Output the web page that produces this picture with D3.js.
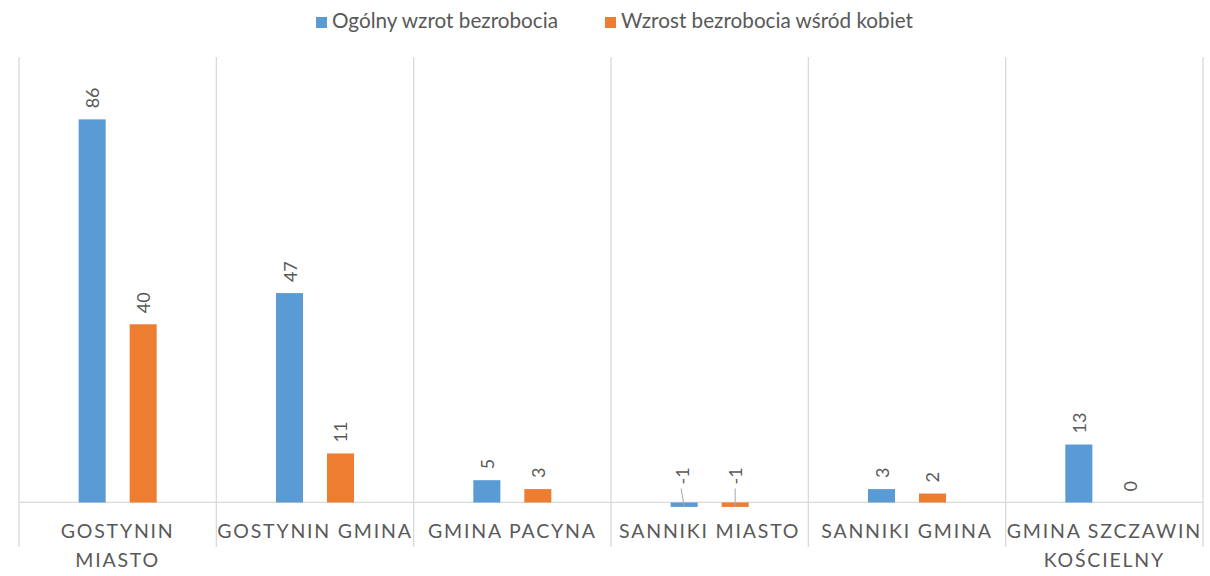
<!DOCTYPE html>
<html>
<head>
<meta charset="utf-8">
<script src="https://cdn.jsdelivr.net/npm/d3@7"></script>
<style>
    body { margin: 0; background: #fff; }
    svg text { font-family: Lato, "Open Sans", sans-serif; fill: #595959; }
    .grid-line { stroke: #d9d9d9; stroke-width: 1.3; }
</style>
</head>
<body>
<svg></svg>
<script>
// "\n" oznacza miejsce łamania etykiety (jak w oryginale)
let categories = ["GOSTYNIN\nMIASTO", "GOSTYNIN GMINA", "GMINA PACYNA", "SANNIKI MIASTO", "SANNIKI GMINA", "GMINA SZCZAWIN\nKOŚCIELNY"];
let seriesNames = ["Ogólny wzrot bezrobocia", "Wzrost bezrobocia wśród kobiet"];
let totalValues = [86, 47, 5, -1, 3, 13];
let womenValues = [40, 11, 3, -1, 2, 0];
let colors = ["#5b9bd5", "#ed7d31"];

let width = 1210;
let height = 576;
let plotLeft = 19, plotRight = 1203, plotTop = 57, plotBottom = 547;

let svg = d3.select("svg")
    .attr("width", width)
    .attr("height", height);

let rows = categories.map((c, i) => ({label: c, values: [totalValues[i], womenValues[i]]}));

// skala osi Y: od -10 do 100 jak w oryginale
let scaleY = d3.scaleLinear()
    .domain([-10, 100])
    .range([plotBottom, plotTop]);

let scaleX = d3.scaleBand()
    .domain(categories)
    .range([plotLeft, plotRight]);

let scaleS = d3.scaleBand()
    .domain([0, 1])
    .range([0, scaleX.bandwidth()])
    .paddingInner(0.47)
    .paddingOuter(1.17);

// pionowe linie siatki
svg.append("g")
    .selectAll("line")
    .data(categories.concat(["end"]))
    .enter()
    .append("line")
    .classed("grid-line", true)
    .attr("x1", (d, i) => plotLeft + i * scaleX.step())
    .attr("x2", (d, i) => plotLeft + i * scaleX.step())
    .attr("y1", plotTop)
    .attr("y2", plotBottom);

// oś kategorii w zerze
svg.append("line")
    .classed("grid-line", true)
    .attr("x1", plotLeft)
    .attr("x2", plotRight)
    .attr("y1", scaleY(0))
    .attr("y2", scaleY(0));

let groups = svg.append("g")
    .selectAll("g")
    .data(rows)
    .enter()
    .append("g")
    .attr("transform", d => `translate(${scaleX(d.label)}, 0)`);

groups.selectAll("rect")
    .data(d => d.values)
    .enter()
    .append("rect")
    .attr("x", (d, i) => scaleS(i))
    .attr("width", scaleS.bandwidth())
    .attr("y", d => scaleY(Math.max(0, d)))
    .attr("height", d => Math.abs(scaleY(d) - scaleY(0)))
    .attr("fill", (d, i) => colors[i]);

// etykiety danych (obrócone)
groups.selectAll("text.val")
    .data(d => d.values)
    .enter()
    .append("text")
    .attr("class", "val")
    .attr("font-size", 18)
    .attr("text-anchor", "start")
    .attr("dominant-baseline", "central")
    .attr("transform", function (d, i) {
        let cx = scaleS(i) + scaleS.bandwidth() / 2 + (d < 0 && i === 0 ? -2 : 0);
        let y = d < 0 ? scaleY(0) - 18 : scaleY(d) - 11;
        return `translate(${cx}, ${y}) rotate(-90)`;
    })
    .text(d => d);

// linie odniesienia dla wartości ujemnych
groups.selectAll("line.leader")
    .data(d => d.values.map((v, i) => ({v: v, i: i})).filter(o => o.v < 0))
    .enter()
    .append("line")
    .attr("class", "leader")
    .attr("stroke", "#a6a6a6")
    .attr("stroke-width", 1)
    .attr("x1", o => scaleS(o.i) + scaleS.bandwidth() / 2 + (o.i === 0 ? -3 : 0))
    .attr("x2", o => scaleS(o.i) + scaleS.bandwidth() / 2)
    .attr("y1", scaleY(0) - 14)
    .attr("y2", o => scaleY(o.v));

// etykiety kategorii (łamane w miejscu "\n")
groups.append("text")
    .attr("class", "cat")
    .attr("font-size", 19.5)
    .attr("letter-spacing", "1.8px")
    .attr("text-anchor", "middle")
    .attr("y", 538)
    .selectAll("tspan")
    .data(d => d.label.split("\n"))
    .enter()
    .append("tspan")
    .attr("x", scaleX.bandwidth() / 2)
    .attr("dy", (l, k) => k === 0 ? 0 : 29)
    .text(l => l);

// legenda
let legendX = [316, 605];
let legend = svg.append("g")
    .selectAll("g")
    .data(seriesNames)
    .enter()
    .append("g")
    .attr("transform", (d, i) => `translate(${legendX[i]}, 0)`);

legend.append("rect")
    .attr("x", 0)
    .attr("y", 17)
    .attr("width", 11)
    .attr("height", 11)
    .attr("fill", (d, i) => colors[i]);

legend.append("text")
    .attr("x", 16)
    .attr("y", 28)
    .attr("font-size", 20.7)
    .text(d => d);
</script>
</body>
</html>
